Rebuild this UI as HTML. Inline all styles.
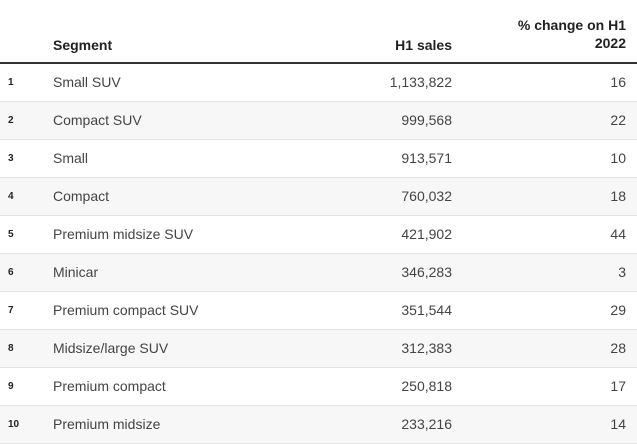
<!DOCTYPE html>
<html><head><meta charset="utf-8"><style>
body{margin:0;width:637px;height:440px;background:#fff;font-family:"Liberation Sans",Arial,sans-serif;color:#333;overflow:hidden;position:relative}
.h{position:absolute;font-weight:bold;font-size:14px;color:#222;line-height:18px}
.line{position:absolute;left:0;top:62px;width:637px;height:2px;background:#333}
.row{position:absolute;left:0;width:637px;height:37px;border-bottom:1px solid #e3e3e3}
.row span{position:absolute;top:0;line-height:37px;font-size:14px;color:#444}
.n{left:8px;font-size:10px!important;font-weight:bold;color:#222!important}
.s{left:53px}.v{right:185px}.p{right:11px}
</style></head><body>
<div class="h" style="left:53px;top:36px">Segment</div>
<div class="h" style="right:185px;top:36px">H1 sales</div>
<div class="h" style="right:11px;top:16px;text-align:right">% change on H1<br>2022</div>
<div class="line"></div>
<div class="row" style="top:64px"><span class="n">1</span><span class="s">Small SUV</span><span class="v">1,133,822</span><span class="p">16</span></div>
<div class="row" style="top:102px;background:#f7f7f7"><span class="n">2</span><span class="s">Compact SUV</span><span class="v">999,568</span><span class="p">22</span></div>
<div class="row" style="top:140px"><span class="n">3</span><span class="s">Small</span><span class="v">913,571</span><span class="p">10</span></div>
<div class="row" style="top:178px;background:#f7f7f7"><span class="n">4</span><span class="s">Compact</span><span class="v">760,032</span><span class="p">18</span></div>
<div class="row" style="top:216px"><span class="n">5</span><span class="s">Premium midsize SUV</span><span class="v">421,902</span><span class="p">44</span></div>
<div class="row" style="top:254px;background:#f7f7f7"><span class="n">6</span><span class="s">Minicar</span><span class="v">346,283</span><span class="p">3</span></div>
<div class="row" style="top:292px"><span class="n">7</span><span class="s">Premium compact SUV</span><span class="v">351,544</span><span class="p">29</span></div>
<div class="row" style="top:330px;background:#f7f7f7"><span class="n">8</span><span class="s">Midsize/large SUV</span><span class="v">312,383</span><span class="p">28</span></div>
<div class="row" style="top:368px"><span class="n">9</span><span class="s">Premium compact</span><span class="v">250,818</span><span class="p">17</span></div>
<div class="row" style="top:406px;background:#f7f7f7"><span class="n">10</span><span class="s">Premium midsize</span><span class="v">233,216</span><span class="p">14</span></div>
</body></html>
